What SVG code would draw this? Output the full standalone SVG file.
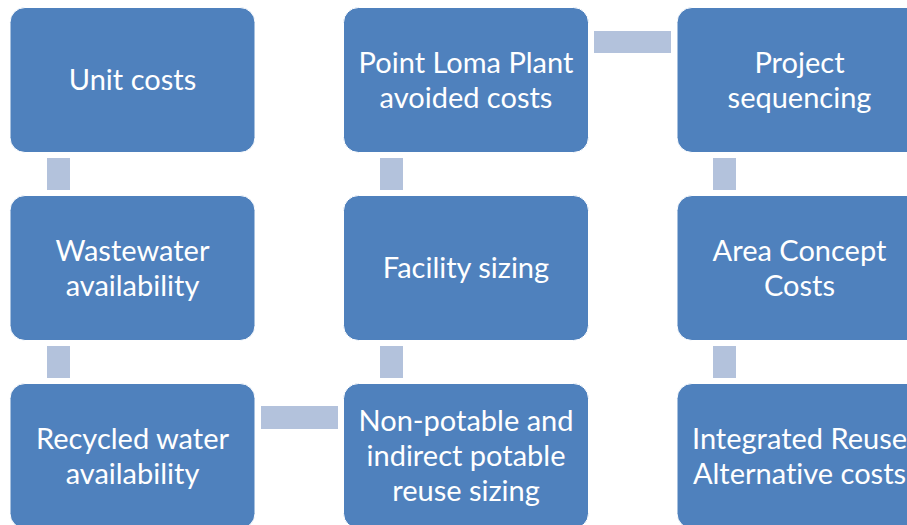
<svg xmlns="http://www.w3.org/2000/svg" width="907" height="525" viewBox="0 0 907 525">
<style>
.box{fill:#4f81bd;stroke:#ffffff;stroke-width:1}
.con{fill:#b3c2dc}
.t{font-family:Lato,"Liberation Sans",sans-serif;font-size:29px;fill:#ffffff;text-anchor:middle;font-variant-ligatures:none;font-feature-settings:"liga" 0,"clig" 0,"dlig" 0,"calt" 0}
</style>
<rect width="907" height="525" fill="#ffffff"/>
<g id="connectors">
<rect class="con" x="47" y="158" width="23" height="32"/>
<rect class="con" x="47" y="346" width="23" height="32"/>
<rect class="con" x="380" y="158" width="23" height="32"/>
<rect class="con" x="380" y="346" width="23" height="32"/>
<rect class="con" x="713" y="158" width="23" height="32"/>
<rect class="con" x="713" y="346" width="23" height="32"/>
<rect class="con" x="261" y="406" width="77" height="23"/>
<rect class="con" x="594" y="31" width="77" height="22"/>
</g>
<g id="n1"><rect class="box" x="10" y="7.5" width="245" height="145" rx="15"/><text class="t" x="132.5" y="90">Unit costs</text></g>
<g id="n2"><rect class="box" x="10" y="195.5" width="245" height="145" rx="15"/><text class="t" x="132.5" y="260.5">Wastewater</text><text class="t" x="132.5" y="295.5">availability</text></g>
<g id="n3"><rect class="box" x="10" y="383.5" width="245" height="145" rx="15"/><text class="t" x="132.5" y="448.5">Recycled water</text><text class="t" x="132.5" y="483.5">availability</text></g>
<g id="n4"><rect class="box" x="343.5" y="7.5" width="245" height="145" rx="15"/><text class="t" x="466" y="72.5">Point Loma Plant</text><text class="t" x="466" y="107.5">avoided costs</text></g>
<g id="n5"><rect class="box" x="343.5" y="195.5" width="245" height="145" rx="15"/><text class="t" x="466" y="278">Facility sizing</text></g>
<g id="n6"><rect class="box" x="343.5" y="383.5" width="245" height="145" rx="15"/><text class="t" x="466" y="430.5">Non-potable and</text><text class="t" x="466" y="465.5">indirect potable</text><text class="t" x="466" y="500.5">reuse sizing</text></g>
<g id="n7"><rect class="box" x="677" y="7.5" width="245" height="145" rx="15"/><text class="t" x="799.5" y="72.5">Project</text><text class="t" x="799.5" y="107.5">sequencing</text></g>
<g id="n8"><rect class="box" x="677" y="195.5" width="245" height="145" rx="15"/><text class="t" x="799.5" y="260.5">Area Concept</text><text class="t" x="799.5" y="295.5">Costs</text></g>
<g id="n9"><rect class="box" x="677" y="383.5" width="245" height="145" rx="15"/><text class="t" x="799.5" y="448.5">Integrated Reuse</text><text class="t" x="799.5" y="483.5">Alternative costs</text></g>
</svg>
